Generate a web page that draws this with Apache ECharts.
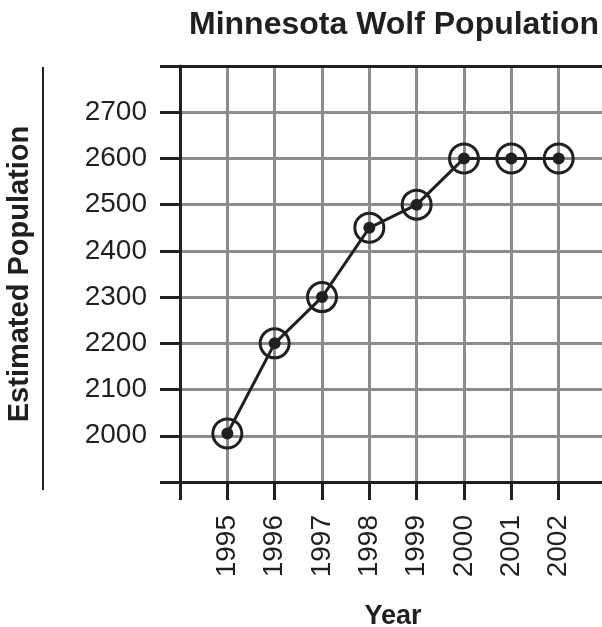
<!DOCTYPE html>
<html>
<head>
<meta charset="utf-8">
<script src="https://cdn.jsdelivr.net/npm/echarts@6/dist/echarts.min.js"></script>
<style>
  html, body { margin: 0; padding: 0; background: #fff; }
  #main { width: 602px; height: 627px; }
</style>
</head>
<body>
<div id="main"></div>
<script>
// data
const years = [1995, 1996, 1997, 1998, 1999, 2000, 2001, 2002];
const population = [2005, 2200, 2300, 2450, 2500, 2600, 2600, 2600];
const yTickLabels = [2000, 2100, 2200, 2300, 2400, 2500, 2600, 2700];

const ink = '#231f20';
const gridGray = '#8b8c8f';
const font = 'Liberation Sans';

const myChart = echarts.init(document.querySelector('#main'));
const points = years.map((y, i) => [y, population[i]]);

const option = {
    animation: false,
    backgroundColor: '#fff',
    textStyle: { fontFamily: font, color: ink },
    title: {
        text: 'Minnesota Wolf Population',
        left: 184,
        top: 4,
        textStyle: { fontFamily: font, fontSize: 32, fontWeight: 'bold', color: ink }
    },
    grid: {
        left: 180,
        right: -4,
        top: 66,
        bottom: 145,
        containLabel: false,
        outerBoundsMode: 'none'
    },
    graphic: [{
        type: 'line',
        shape: { x1: 43, y1: 67, x2: 43, y2: 490 },
        style: { stroke: ink, lineWidth: 2 }
    }],
    xAxis: [{
        type: 'value',
        position: 'bottom',
        min: 1994,
        max: 2003,
        interval: 1,
        name: 'Year',
        nameLocation: 'middle',
        nameGap: 121,
        nameTextStyle: { fontFamily: font, fontSize: 27, fontWeight: 'bold', color: ink },
        axisLine: { show: true, lineStyle: { color: ink, width: 3 } },
        axisTick: { show: true, length: 18, lineStyle: { color: ink, width: 3 } },
        axisLabel: {
            rotate: 90,
            margin: 33,
            fontSize: 28,
            fontFamily: font,
            color: ink,
            formatter: (v) => years.indexOf(v) >= 0 ? String(v) : ''
        },
        splitLine: {
            show: true,
            showMinLine: false,
            lineStyle: { color: gridGray, width: 3 }
        }
    }, {
        // black border along the top
        type: 'value',
        position: 'top',
        min: 1994,
        max: 2003,
        interval: 1,
        axisLine: { show: true, lineStyle: { color: ink, width: 3 } },
        axisTick: { show: false },
        axisLabel: { show: false },
        splitLine: { show: false }
    }],
    yAxis: {
        type: 'value',
        min: 1900,
        max: 2800,
        interval: 100,
        name: 'Estimated Population',
        nameLocation: 'middle',
        nameGap: 146,
        nameTextStyle: { fontFamily: font, fontSize: 29, fontWeight: 'bold', color: ink },
        axisLine: { show: true, lineStyle: { color: ink, width: 3 } },
        axisTick: { show: true, length: 20, lineStyle: { color: ink, width: 3 } },
        axisLabel: {
            margin: 33,
            fontSize: 28,
            fontFamily: font,
            color: ink,
            formatter: (v) => yTickLabels.indexOf(v) >= 0 ? String(v) : ''
        },
        splitLine: {
            show: true,
            showMinLine: false,
            showMaxLine: false,
            lineStyle: { color: gridGray, width: 3 }
        }
    },
    series: [{
        type: 'line',
        data: points,
        symbol: 'circle',
        symbolSize: 12,
        lineStyle: { color: ink, width: 3 },
        itemStyle: { color: ink },
        z: 3
    }, {
        type: 'scatter',
        data: points,
        symbol: 'circle',
        symbolSize: 29,
        itemStyle: { color: 'transparent', borderColor: ink, borderWidth: 3, opacity: 1 },
        z: 4
    }]
};

myChart.setOption(option, true);
</script>
</body>
</html>
